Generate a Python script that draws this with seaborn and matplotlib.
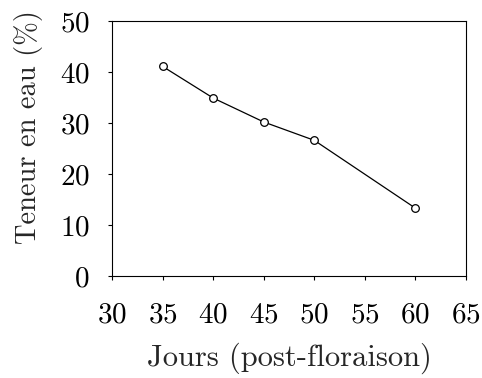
import matplotlib
matplotlib.use("Agg")
import matplotlib.pyplot as plt
import seaborn as sns
import pandas as pd

days = [35, 40, 45, 50, 60]
water = [41.1, 34.9, 30.2, 26.6, 13.3]
xticks = [30, 35, 40, 45, 50, 55, 60, 65]
yticks = [0, 10, 20, 30, 40, 50]

sns.set_style("ticks")
plt.rcParams["font.family"] = ["cmr10", "DejaVu Serif"]
plt.rcParams["axes.formatter.use_mathtext"] = True
plt.rcParams["mathtext.fontset"] = "cm"

df = pd.DataFrame({"Jours": days, "Teneur": water})

fig = plt.figure(figsize=(4.82, 3.78), dpi=100)
ax = fig.add_axes([112 / 482, 1 - 276 / 378, (466 - 112) / 482, (276 - 21) / 378])

sns.lineplot(data=df, x="Jours", y="Teneur", ax=ax, color="black", linewidth=0.9,
             marker="o", markersize=5.5, markerfacecolor="white",
             markeredgecolor="black", markeredgewidth=0.9)

ax.set_xlim(30, 65)
ax.set_ylim(0, 50)
ax.set_xticks(xticks)
ax.set_yticks(yticks)
ax.tick_params(axis="both", direction="out", length=3, width=0.8, labelsize=21,
               colors="black")
ax.tick_params(axis="y", pad=13)
ax.tick_params(axis="x", pad=16)
for s in ax.spines.values():
    s.set_linewidth(0.8)
    s.set_color("black")
ax.set_xlabel("Jours (post-floraison)", fontsize=22, labelpad=10)
ax.set_ylabel("Teneur en eau (%)", fontsize=20.5)
ax.yaxis.set_label_coords(-0.195, 0.585)

fig.savefig("out.png", dpi=100)
